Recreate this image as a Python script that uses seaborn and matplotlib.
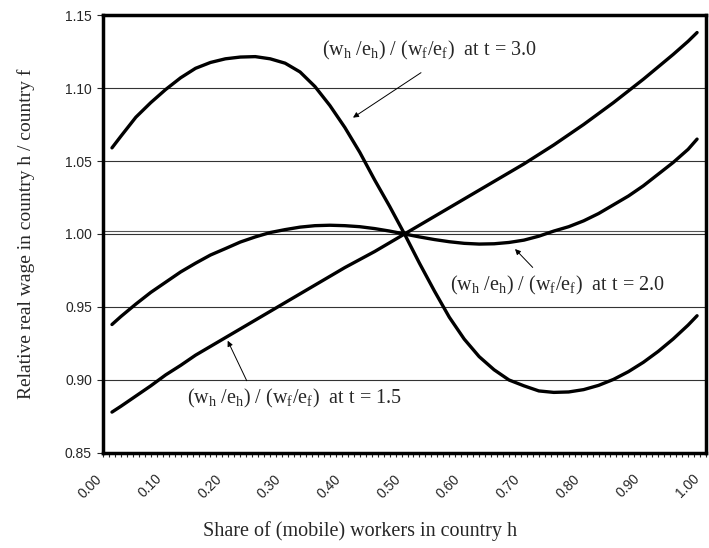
import matplotlib
matplotlib.use('Agg')
import matplotlib.pyplot as plt
import matplotlib.transforms as mtransforms
from matplotlib.ticker import MultipleLocator, FixedLocator
import seaborn as sns

# Share of mobile workers in country h
share = [0.01, 0.025, 0.05, 0.075, 0.10, 0.125, 0.15, 0.175, 0.20, 0.225, 0.25,
         0.275, 0.30, 0.325, 0.35, 0.375, 0.40, 0.425, 0.45, 0.475, 0.50,
         0.525, 0.55, 0.575, 0.60, 0.625, 0.65, 0.675, 0.70, 0.725, 0.75,
         0.775, 0.80, 0.825, 0.85, 0.875, 0.90, 0.925, 0.95, 0.975, 0.99]

# Relative real wage (w_h/e_h)/(w_f/e_f) for three values of t
ratio_t30 = [1.059, 1.067, 1.080, 1.090, 1.099, 1.107, 1.1135, 1.1175, 1.120, 1.1212, 1.1215,
             1.120, 1.117, 1.111, 1.101, 1.088, 1.073, 1.056, 1.037, 1.019, 1.000,
             0.980, 0.961, 0.943, 0.928, 0.916, 0.907, 0.900, 0.896, 0.8925, 0.8915,
             0.8918, 0.8934, 0.8963, 0.9004, 0.9057, 0.9121, 0.9196, 0.9281, 0.9376, 0.944]
ratio_t20 = [0.938, 0.9435, 0.952, 0.960, 0.967, 0.974, 0.980, 0.9856, 0.990, 0.9945, 0.998,
             1.001, 1.003, 1.0047, 1.0057, 1.006, 1.0057, 1.005, 1.0037, 1.002, 1.000,
             0.998, 0.9962, 0.9947, 0.9936, 0.9931, 0.9933, 0.9942, 0.9958, 0.9985, 1.002,
             1.005, 1.009, 1.014, 1.020, 1.026, 1.033, 1.041, 1.049, 1.058, 1.065]
ratio_t15 = [0.878, 0.882, 0.889, 0.896, 0.9035, 0.910, 0.917, 0.923, 0.929, 0.935, 0.941,
             0.947, 0.953, 0.959, 0.965, 0.971, 0.977, 0.9825, 0.988, 0.994, 1.000,
             1.006, 1.012, 1.018, 1.024, 1.030, 1.036, 1.042, 1.048, 1.0545, 1.061,
             1.068, 1.075, 1.0825, 1.090, 1.098, 1.106, 1.1145, 1.123, 1.132, 1.138]

y_ticks = [0.85, 0.90, 0.95, 1.00, 1.05, 1.10, 1.15]
x_ticks = [0.0, 0.1, 0.2, 0.3, 0.4, 0.5, 0.6, 0.7, 0.8, 0.9, 1.0]
x_labels = ['0.00', '0.10', '0.20', '0.30', '0.40', '0.50', '0.60', '0.70', '0.80', '0.90', '1.00']
parity_level = 1.002

sns.set_style('white')
plt.rcParams['font.family'] = ['Liberation Sans', 'DejaVu Sans']
plt.rcParams['mathtext.fontset'] = 'custom'
plt.rcParams['mathtext.rm'] = 'Liberation Serif'
plt.rcParams['mathtext.it'] = 'Liberation Serif:italic'

fig = plt.figure(figsize=(7.09, 5.48), dpi=100)
ax = fig.add_axes([0.1453, 0.1734, 0.8505, 0.7992])

# horizontal grid + the 1.0 reference line
for y in y_ticks[1:-1]:
    ax.axhline(y, color='#333333', lw=0.8, zorder=1)
ax.axhline(parity_level, color='#555555', lw=0.8, zorder=1)

for vals in [ratio_t30, ratio_t20, ratio_t15]:
    sns.lineplot(x=share, y=vals, color='black', lw=2.4, ax=ax, zorder=3,
                 solid_joinstyle='round', solid_capstyle='round')

ax.set_xlim(-0.005, 1.005)
ax.set_ylim(0.85, 1.15)
ax.set_yticks(y_ticks)
ax.set_yticklabels([f'{v:.2f}' for v in y_ticks], fontsize=10)
ax.xaxis.set_major_locator(FixedLocator(x_ticks))
ax.set_xticklabels(x_labels, fontsize=10, rotation=45, ha='right', va='center',
                   rotation_mode='anchor')
ax.xaxis.set_minor_locator(MultipleLocator(0.01, offset=0.005))
ax.tick_params(axis='x', which='major', length=0, pad=17)
ax.tick_params(axis='x', which='minor', length=3, width=0.8, direction='out', bottom=True)
ax.tick_params(axis='y', which='major', length=4, width=0.8, direction='out', left=True, pad=4)
shift = mtransforms.ScaledTranslation(-0.06, 0, fig.dpi_scale_trans)
for lab in ax.get_xticklabels():
    lab.set_transform(lab.get_transform() + shift)

for side in ['top', 'bottom', 'left', 'right']:
    ax.spines[side].set_visible(True)
    ax.spines[side].set_color('black')
    ax.spines[side].set_linewidth(2.5)

ax.set_ylabel('Relative real wage in country h / country f', family='Liberation Serif', fontsize=14)
ax.yaxis.set_label_coords(-0.113, 0.5)
ax.set_xlabel('Share of (mobile) workers in country h', family='Liberation Serif', fontsize=14.5)
ax.xaxis.set_label_coords(0.426, -0.155)

lbl = r'(w$_\mathrm{h}$ /e$_\mathrm{h}$) / (w$_\mathrm{f}$/e$_\mathrm{f}$)  at t = '
arrow = dict(arrowstyle='-|>', color='black', lw=0.7, mutation_scale=8, shrinkA=0, shrinkB=0)
ax.annotate('', xy=(0.4137, 1.0797), xytext=(0.5276, 1.1105), arrowprops=arrow)
ax.text(0.3613, 1.1256, lbl + '3.0', family='Liberation Serif', fontsize=14.5, ha='left', va='center')
ax.annotate('', xy=(0.6851, 0.9897), xytext=(0.7147, 0.9771), arrowprops=arrow)
ax.text(0.576, 0.9645, lbl + '2.0', family='Liberation Serif', fontsize=14.5, ha='left', va='center')
ax.annotate('', xy=(0.2038, 0.9269), xytext=(0.2357, 0.8995), arrowprops=arrow)
ax.text(0.135, 0.8874, lbl + '1.5', family='Liberation Serif', fontsize=14.5, ha='left', va='center')

fig.savefig('out.png', dpi=100)
